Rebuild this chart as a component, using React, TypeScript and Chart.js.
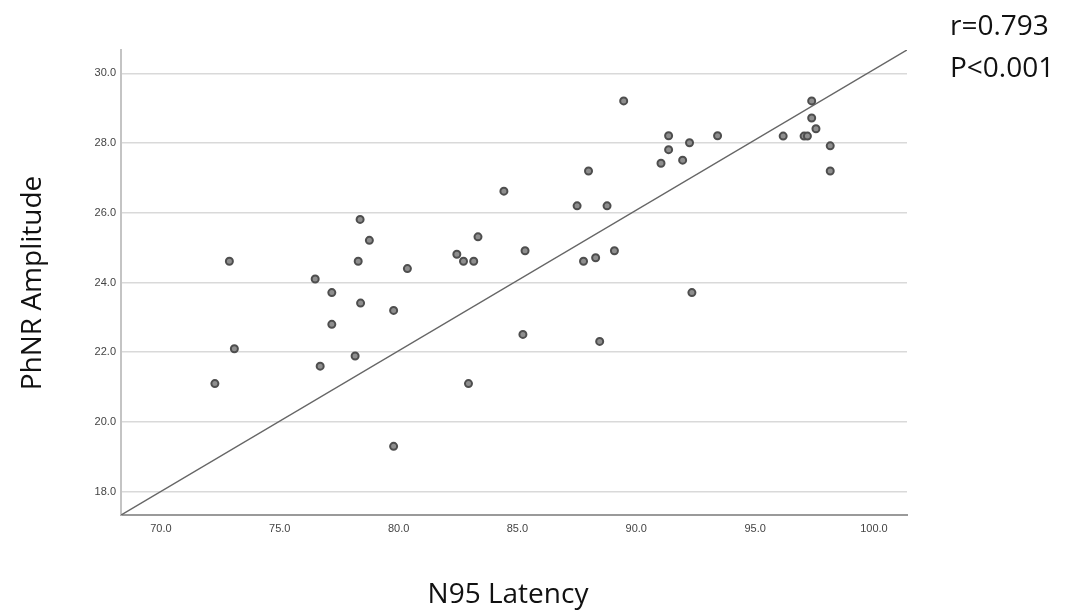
import { useEffect, useRef } from "react";
import { Chart, registerables } from "chart.js";

Chart.register(...registerables);

// N95 latency (x) and PhNR amplitude (y) for each subject
const N95_LATENCY = [
  72.27, 72.88, 73.09, 76.49, 76.7, 77.19, 77.19, 78.17, 78.3, 78.38, 78.4, 78.77,
  79.79, 79.79, 80.37, 82.45, 82.73, 82.94, 83.16, 83.34, 84.43, 85.23, 85.32, 87.51,
  87.78, 87.99, 88.29, 88.46, 88.77, 89.08, 89.47, 91.04, 91.36, 91.36, 91.95, 92.24,
  92.34, 93.42, 96.18, 97.06, 97.2, 97.38, 97.38, 97.56, 98.16, 98.16,
];
const PHNR_AMPLITUDE = [
  21.1, 24.61, 22.1, 24.1, 21.6, 23.71, 22.8, 21.89, 24.61, 25.81, 23.41, 25.21,
  23.2, 19.3, 24.4, 24.81, 24.61, 21.1, 24.61, 25.31, 26.62, 22.51, 24.91, 26.2,
  24.61, 27.2, 24.71, 22.31, 26.2, 24.91, 29.21, 27.42, 28.21, 27.81, 27.51, 28.01,
  23.71, 28.21, 28.2, 28.2, 28.2, 29.21, 28.72, 28.41, 27.92, 27.2,
];

// axis ranges and ticks
const X_RANGE = [68.32, 101.39];
const Y_RANGE = [17.33, 30.67];
const X_TICK_STEP = 5;
const Y_TICK_STEP = 2;

// texts
const X_TITLE = "N95 Latency";
const Y_TITLE = "PhNR Amplitude";
const STATS_TEXT = ["r=0.793", "P<0.001"];

const textPlugin = {
  id: "extraTexts",
  afterDraw(chart: any) {
    const ctx = chart.ctx as CanvasRenderingContext2D;
    ctx.save();
    ctx.fillStyle = "#111";
    ctx.font = '28px "Open Sans"';
    ctx.textBaseline = "alphabetic";
    ctx.textAlign = "center";
    ctx.fillText(X_TITLE, 508, 603);
    ctx.textAlign = "left";
    ctx.fillText(STATS_TEXT[0], 950, 35);
    ctx.fillText(STATS_TEXT[1], 950, 77);
    ctx.translate(41, 283);
    ctx.rotate(-Math.PI / 2);
    ctx.textAlign = "center";
    ctx.fillText(Y_TITLE, 0, 0);
    ctx.restore();
  },
};

export default function App() {
  const ref = useRef<HTMLCanvasElement | null>(null);

  useEffect(() => {
    if (!ref.current) return;
    const points = N95_LATENCY.map((x, i) => ({ x, y: PHNR_AMPLITUDE[i] }));
    const diagonal = [
      { x: X_RANGE[0], y: Y_RANGE[0] },
      { x: X_RANGE[1], y: Y_RANGE[1] },
    ];
    const tickFont = { family: '"Liberation Sans", Arial, sans-serif', size: 11 };
    const chart = new Chart(ref.current, {
      type: "scatter",
      data: {
        datasets: [
          {
            label: "Fit",
            data: diagonal,
            showLine: true,
            borderColor: "#666666",
            borderWidth: 1.5,
            pointRadius: 0,
            order: 2,
          } as any,
          {
            label: "Subjects",
            data: points,
            pointRadius: 3.5,
            pointBorderWidth: 2,
            pointBorderColor: "#4e4e4e",
            pointBackgroundColor: "#8e8e8e",
            order: 1,
          } as any,
        ],
      },
      options: {
        animation: false,
        responsive: false,
        devicePixelRatio: 1,
        layout: { padding: { left: 0, right: 160, top: 50, bottom: 0 } },
        plugins: {
          legend: { display: false },
          tooltip: { enabled: false },
          title: { display: false },
        },
        scales: {
          x: {
            type: "linear",
            min: X_RANGE[0],
            max: X_RANGE[1],
            afterFit: (s: any) => {
              s.height = 98;
            },
            grid: { display: false, drawTicks: false },
            border: { display: true, color: "#9a9a9a", width: 2 },
            ticks: {
              stepSize: X_TICK_STEP,
              includeBounds: false,
              padding: 7,
              color: "#444444",
              font: tickFont,
              maxRotation: 0,
              callback: (v: any) => Number(v).toFixed(1),
            },
          },
          y: {
            type: "linear",
            min: Y_RANGE[0],
            max: Y_RANGE[1],
            afterFit: (s: any) => {
              s.width = 121;
            },
            grid: { display: true, color: "#d9d9d9", lineWidth: 1.5, drawTicks: false },
            border: { display: true, color: "#c4c4c4", width: 2 },
            ticks: {
              stepSize: Y_TICK_STEP,
              includeBounds: false,
              padding: 5,
              color: "#444444",
              font: tickFont,
              callback: (v: any) => Number(v).toFixed(1),
            },
          },
        },
      },
      plugins: [textPlugin],
    });
    return () => chart.destroy();
  }, []);

  return (
    <div style={{ position: "fixed", left: 0, top: 0, width: 1067, height: 613, background: "#fff" }}>
      <canvas ref={ref} width={1067} height={613} style={{ width: 1067, height: 613, display: "block" }} />
    </div>
  );
}
